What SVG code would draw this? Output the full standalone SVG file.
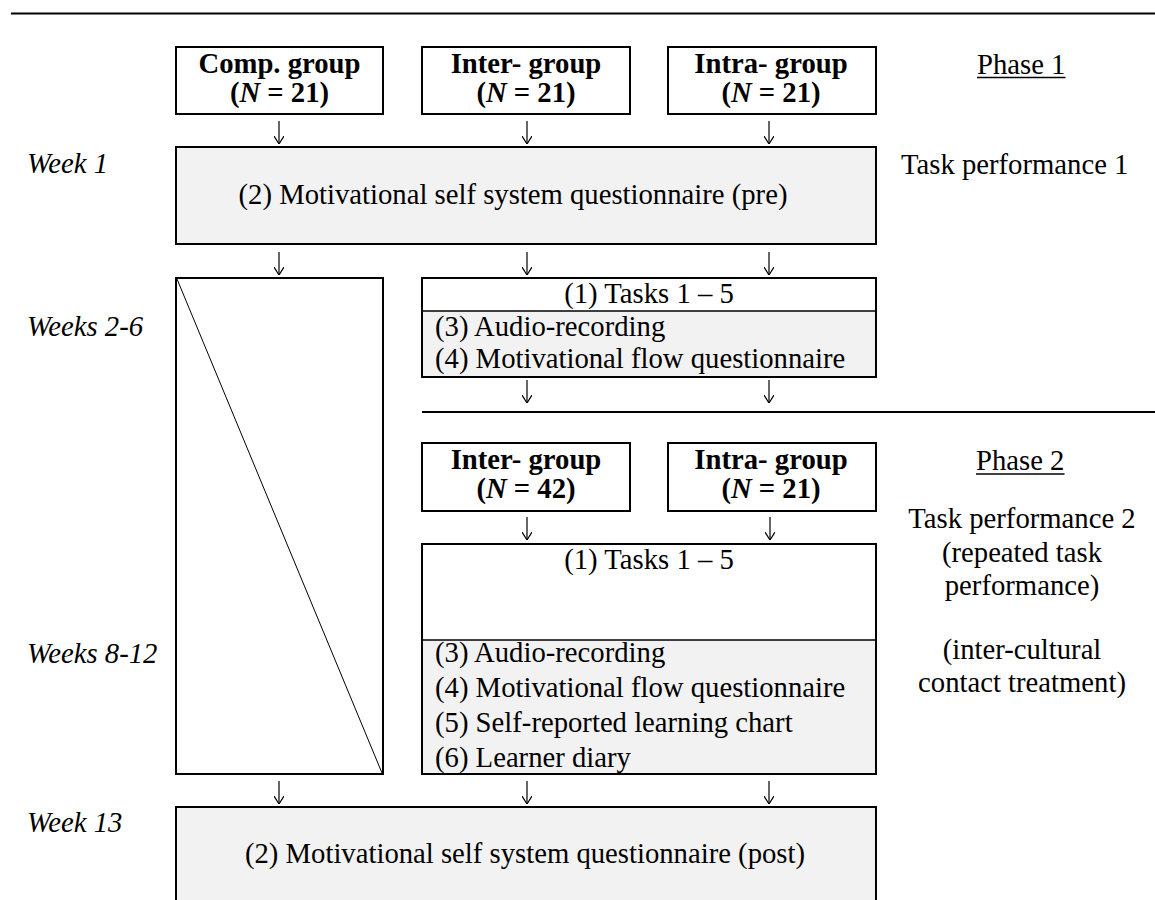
<svg xmlns="http://www.w3.org/2000/svg" width="1155" height="900" viewBox="0 0 1155 900">
<defs>
<style>
text{font-family:"Liberation Serif","Times New Roman",serif;font-size:28.7px;fill:#000}
.b{font-weight:bold}
.i{font-style:italic}
.m{text-anchor:middle}
.box{fill:#fff;stroke:#000;stroke-width:2}
.gray{fill:#f2f2f2;stroke:#000;stroke-width:2}
.div{stroke:#000;stroke-width:1.5;fill:none}
.rule{stroke:#000;stroke-width:2;fill:none}
.ul{stroke:#000;stroke-width:1.3}
.arr{stroke:#000;stroke-width:1.2;fill:none;marker-end:url(#ah)}
</style>
<marker id="ah" viewBox="0 0 8 10" refX="8" refY="5" markerWidth="8" markerHeight="10" markerUnits="userSpaceOnUse" orient="auto">
<path d="M0,0 L8,5 L0,10" fill="none" stroke="#000" stroke-width="1.2"/>
</marker>
</defs>
<rect width="1155" height="900" fill="#fff"/>
<line class="rule" x1="11" y1="13.5" x2="1155" y2="13.5"/>
<line class="rule" x1="422" y1="412" x2="1155" y2="412"/>

<g id="labels">
<text class="i" x="27" y="173">Week 1</text>
<text class="i" x="27" y="336">Weeks 2-6</text>
<text class="i" x="27" y="663">Weeks 8-12</text>
<text class="i" x="27" y="832">Week 13</text>
</g>

<g id="phase1">
<text x="977" y="74">Phase 1</text>
<line class="ul" x1="977" y1="77.5" x2="1065.5" y2="77.5"/>
<text x="901" y="174">Task performance 1</text>
</g>

<g id="phase2">
<text x="976" y="470">Phase 2</text>
<line class="ul" x1="976" y1="474" x2="1064.5" y2="474"/>
<text class="m" x="1022" y="528">Task performance 2</text>
<text class="m" x="1022" y="562">(repeated task</text>
<text class="m" x="1022" y="595">performance)</text>
<text class="m" x="1022" y="659">(inter-cultural</text>
<text class="m" x="1022" y="692">contact treatment)</text>
</g>

<g id="comp-group">
<rect class="box" x="176" y="47" width="207" height="67"/>
<text class="b m" x="279.5" y="72.5">Comp. group</text>
<text class="b m" x="279.5" y="101.5">(<tspan class="i">N</tspan> = 21)</text>
</g>
<g id="inter-group-1">
<rect class="box" x="422" y="47" width="208" height="67"/>
<text class="b m" x="526" y="72.5">Inter- group</text>
<text class="b m" x="526" y="101.5">(<tspan class="i">N</tspan> = 21)</text>
</g>
<g id="intra-group-1">
<rect class="box" x="668" y="47" width="208" height="67"/>
<text class="b m" x="771" y="72.5">Intra- group</text>
<text class="b m" x="771" y="101.5">(<tspan class="i">N</tspan> = 21)</text>
</g>

<g id="mss-pre">
<rect class="gray" x="176" y="147" width="700" height="97"/>
<text class="m" x="513" y="204">(2) Motivational self system questionnaire (pre)</text>
</g>

<g id="comp-empty">
<rect class="box" x="176" y="278" width="207" height="496"/>
<line x1="177" y1="279" x2="382" y2="773" stroke="#000" stroke-width="1"/>
</g>

<g id="tasks-phase1">
<rect class="gray" x="422" y="278" width="454" height="99"/>
<rect x="423" y="279" width="452" height="32" fill="#fff"/>
<line class="div" x1="422" y1="311" x2="876" y2="311"/>
<text class="m" x="649" y="303">(1) Tasks 1 – 5</text>
<text x="435" y="336">(3) Audio-recording</text>
<text x="435" y="368">(4) Motivational flow questionnaire</text>
</g>

<g id="inter-group-2">
<rect class="box" x="422" y="443" width="208" height="68"/>
<text class="b m" x="526" y="468.5">Inter- group</text>
<text class="b m" x="526" y="497.5">(<tspan class="i">N</tspan> = 42)</text>
</g>
<g id="intra-group-2">
<rect class="box" x="668" y="443" width="208" height="68"/>
<text class="b m" x="771" y="468.5">Intra- group</text>
<text class="b m" x="771" y="497.5">(<tspan class="i">N</tspan> = 21)</text>
</g>

<g id="tasks-phase2">
<rect class="gray" x="422" y="544" width="454" height="230"/>
<rect x="423" y="545" width="452" height="95" fill="#fff"/>
<line class="div" x1="422" y1="640" x2="876" y2="640"/>
<text class="m" x="649" y="569">(1) Tasks 1 – 5</text>
<text x="435" y="662">(3) Audio-recording</text>
<text x="435" y="697">(4) Motivational flow questionnaire</text>
<text x="435" y="732">(5) Self-reported learning chart</text>
<text x="435" y="767">(6) Learner diary</text>
</g>

<g id="mss-post">
<rect class="gray" x="176" y="807" width="700" height="110"/>
<text class="m" x="525" y="863">(2) Motivational self system questionnaire (post)</text>
</g>

<g id="connectors">
<line class="arr" x1="279" y1="121" x2="279" y2="144"/>
<line class="arr" x1="527" y1="121" x2="527" y2="144"/>
<line class="arr" x1="769" y1="121" x2="769" y2="144"/>
<line class="arr" x1="279" y1="252" x2="279" y2="275"/>
<line class="arr" x1="527" y1="252" x2="527" y2="275"/>
<line class="arr" x1="769" y1="252" x2="769" y2="275"/>
<line class="arr" x1="527" y1="380" x2="527" y2="403"/>
<line class="arr" x1="769" y1="380" x2="769" y2="403"/>
<line class="arr" x1="527" y1="517" x2="527" y2="540"/>
<line class="arr" x1="770" y1="517" x2="770" y2="540"/>
<line class="arr" x1="279" y1="781" x2="279" y2="804"/>
<line class="arr" x1="527" y1="781" x2="527" y2="804"/>
<line class="arr" x1="769" y1="781" x2="769" y2="804"/>
</g>
</svg>
